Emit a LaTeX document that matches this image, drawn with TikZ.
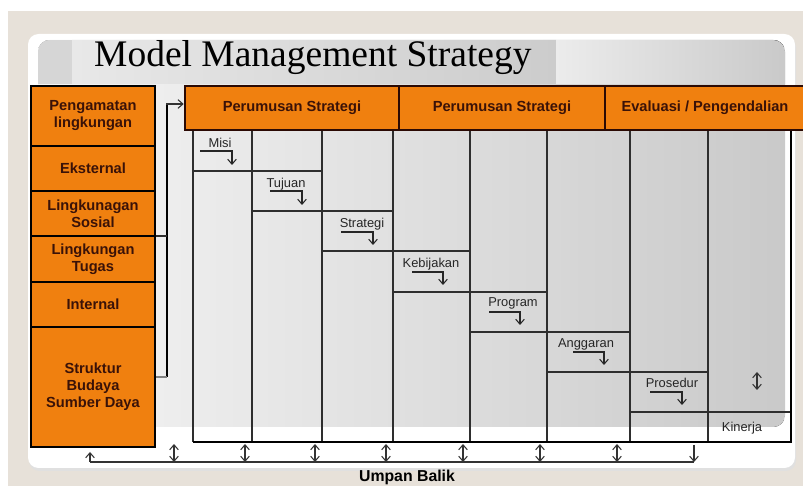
\documentclass[tikz,border=0pt]{standalone}
\usepackage{fontspec}
\setmainfont{Liberation Sans}
\newfontfamily\titlefont{Liberation Serif}
\usetikzlibrary{arrows.meta}

\definecolor{bgbeige}{HTML}{E7E1D9}
\definecolor{boxorange}{HTML}{F0800F}
\definecolor{boxtext}{HTML}{3A1208}
\definecolor{boxedge}{HTML}{2B0A04}
\definecolor{gridline}{HTML}{2E2E2E}

\tikzset{
  envbox/.style={draw=black, line width=2.4pt, fill=boxorange, text=boxtext,
    font=\bfseries\fontsize{12.5}{14.5}\selectfont, align=center,
    minimum width=3.72cm, inner sep=0pt},
  headbox/.style={draw=boxedge, line width=2.2pt, fill=boxorange, text=boxtext,
    font=\bfseries\fontsize{12.5}{14.5}\selectfont,
    minimum height=1.32cm, inner sep=0pt},
  steplabel/.style={font=\fontsize{11}{13}\selectfont, text=black!85,
    anchor=base, inner sep=0pt},
  steparrow/.style={line width=0.9pt, draw=black!85,
    -{Straight Barb[length=1.5mm,width=2.6mm]}},
  fbarrow/.style={line width=0.9pt, draw=black!80,
    -{Straight Barb[length=1.5mm,width=2.6mm]}},
  fbboth/.style={line width=0.9pt, draw=black!80,
    {Straight Barb[length=1.5mm,width=2.6mm]}-{Straight Barb[length=1.5mm,width=2.6mm]}},
  gridthin/.style={line width=0.9pt, draw=gridline},
  gridthick/.style={line width=2.4pt, draw=black}
}

\begin{document}
\begin{tikzpicture}[x=0.03cm, y=-0.03cm]
		\useasboundingbox (0,0) rectangle (803,486);
		% background and panel
		\fill[white] (0,0) rectangle (803,486);
		\fill[bgbeige] (8,11) rectangle (803,486);
		\fill[black!12, rounded corners=9] (29,37) rectangle (796,471);
		\fill[white, rounded corners=9] (28,34) rectangle (795,468);
		\begin{scope}
			\clip[rounded corners=10] (38,40) rectangle (785,427);
			\fill[left color=gray!8, right color=gray!42] (38,40) rectangle (785,427);
			\fill[gray!32] (38,40) rectangle (72,84);
			\fill[left color=gray!18, middle color=gray!7, right color=gray!40] (72,40) rectangle (556,84);
			\fill[left color=gray!15, right color=gray!42] (556,40) rectangle (785,84);
		\end{scope}
		\node[anchor=base west, inner sep=0pt, font=\titlefont\fontsize{32}{36}\selectfont] (title) at (94,67) {Model Management Strategy};

		% grid of steps
		\draw[gridthin] (193,130) -- (193,442);
		\draw[gridthin] (252,130) -- (252,442);
		\draw[gridthin] (322,130) -- (322,442);
		\draw[gridthin] (393,130) -- (393,442);
		\draw[gridthin] (470,130) -- (470,442);
		\draw[gridthin] (547,130) -- (547,442);
		\draw[gridthin] (630,130) -- (630,442);
		\draw[gridthin] (708,130) -- (708,442);
		\draw[gridthin] (193,171) -- (322,171);
		\draw[gridthin] (252,211) -- (393,211);
		\draw[gridthin] (322,251) -- (470,251);
		\draw[gridthin] (393,292) -- (547,292);
		\draw[gridthin] (470,332) -- (630,332);
		\draw[gridthin] (547,372) -- (708,372);
		\draw[gridthin] (630,412) -- (791,412);
		\draw[gridthick] (193,442) -- (791,442) -- (791,130);

		% step labels
		\node[steplabel] (misi) at (220,148) {Misi};
		\draw[steparrow] ([shift={(-20,3)}]misi.base) -| ([shift={(12,17)}]misi.base);
		\node[steplabel] (tujuan) at (286,188) {Tujuan};
		\draw[steparrow] ([shift={(-16,3)}]tujuan.base) -| ([shift={(16,17)}]tujuan.base);
		\node[steplabel] (strategi) at (362,228) {Strategi};
		\draw[steparrow] ([shift={(-21,4)}]strategi.base) -| ([shift={(11,17)}]strategi.base);
		\node[steplabel] (kebijakan) at (431,268) {Kebijakan};
		\draw[steparrow] ([shift={(-19,4)}]kebijakan.base) -| ([shift={(12,17)}]kebijakan.base);
		\node[steplabel] (program) at (513,307) {Program};
		\draw[steparrow] ([shift={(-24,5)}]program.base) -| ([shift={(7,18)}]program.base);
		\node[steplabel] (anggaran) at (586,348) {Anggaran};
		\draw[steparrow] ([shift={(-13,4)}]anggaran.base) -| ([shift={(18,17)}]anggaran.base);
		\node[steplabel] (prosedur) at (672,388) {Prosedur};
		\draw[steparrow] ([shift={(-22,4)}]prosedur.base) -| ([shift={(10,17)}]prosedur.base);
		\node[steplabel] (kinerja) at (742,432) {Kinerja};
		\draw[fbboth] (757,372) -- (757,390);

		% environment boxes
		\node[envbox, minimum height=1.8cm] (peng) at (93,116) {Pengamatan\\lingkungan};
		\node[envbox, minimum height=1.35cm] (eks) at (93,168.5) {Eksternal};
		\node[envbox, minimum height=1.35cm] (sos) at (93,213.5) {Lingkunagan\\Sosial};
		\node[envbox, minimum height=1.38cm] (tug) at (93,259) {Lingkungan\\Tugas};
		\node[envbox, minimum height=1.35cm] (int) at (93,304.5) {Internal};
		\node[envbox, minimum height=3.6cm] (struk) at (93,387) {Struktur\\Budaya\\Sumber Daya};

		% bracket into the first header
		\coordinate (brTop) at (167,104);
		\coordinate (brBot) at (167,377);
		\coordinate (brMid) at (167,236);
		\draw[line width=2.4pt] (brTop) -- (brBot);
		\draw[gridthin, gray] (brBot) -- (struk.east |- brBot);
		\draw[gridthin] (brMid) -- (tug.east |- brMid);

		% header boxes
		\node[headbox, minimum width=6.42cm] (perum1) at (292,108) {Perumusan Strategi};
		\node[headbox, minimum width=6.18cm] (perum2) at (502,108) {Perumusan Strategi};
		\node[headbox, minimum width=6.0cm] (eval) at (705,108) {Evaluasi / Pengendalian};
		\draw[fbarrow] ([shift={(0,1)}]brTop) |- ([shift={(0,-4)}]perum1.west);

		% feedback line
		\coordinate (fbL) at (90,462);
		\coordinate (fbR) at (694,462);
		\draw[gridthin, draw=black!80] (fbL) -- (fbR);
		\draw[fbarrow] (fbL) -- ++(0,-10);
		\draw[fbarrow] ([shift={(0,-17)}]fbR) -- (fbR);
		\draw[fbboth] (174,444) -- (174,462);
		\draw[fbboth] (245,444) -- (245,462);
		\draw[fbboth] (315,444) -- (315,462);
		\draw[fbboth] (386,444) -- (386,462);
		\draw[fbboth] (463,444) -- (463,462);
		\draw[fbboth] (540,444) -- (540,462);
		\draw[fbboth] (617,444) -- (617,462);
		\node[font=\bfseries\fontsize{13.5}{15}\selectfont, inner sep=0pt] (umpan) at (407,477) {Umpan Balik};
\end{tikzpicture}
\end{document}
